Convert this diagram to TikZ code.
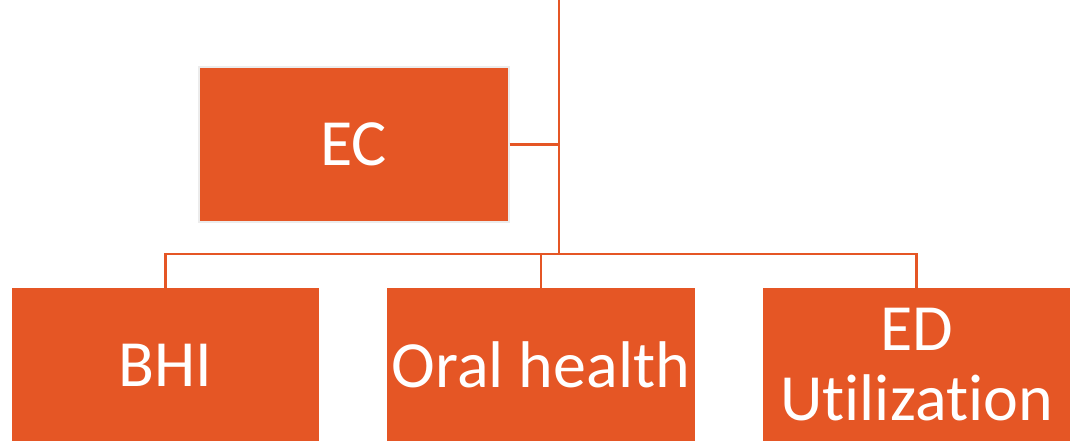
\documentclass[tikz,border=0pt]{standalone}
\usepackage{fontspec}
\setmainfont{Carlito}[Ligatures=NoCommon]
\usepackage{tikz}
\definecolor{ecorange}{RGB}{229,86,37}

\begin{document}
\begin{tikzpicture}
[x=1pt,y=-1pt,
box/.style={rectangle,fill=ecorange,text=white,inner sep=0pt,align=center,
  font=\fontsize{66}{70}\selectfont},
link/.style={draw=ecorange,line width=2.5pt}]
\useasboundingbox (0,0) rectangle (1076,441);
\clip (0,0) rectangle (1076,441);
\node[box,draw=gray!15,line width=2pt,minimum width=310pt,minimum height=154pt] at (353.5,144.5) (ec) {EC};
\node[box,minimum width=307pt,minimum height=154pt] at (165.5,365) (bhi) {BHI};
\node[box,minimum width=308pt,minimum height=154pt] at (541,365) (oral) {Oral health};
\node[box,minimum width=307pt,minimum height=154pt] at (916.5,365) (ed) {ED\\Utilization};

\coordinate (top) at (559,0);
\coordinate (hub) at (559,254);
\draw [link] (top) -- (hub);
\draw [link] (ec.east) -- (ec.east -| hub);
\draw [link] (bhi.north) |- (hub) -| (ed.north);
\draw [link] (oral.north) -- (oral.north |- hub);
\end{tikzpicture}
\end{document}
